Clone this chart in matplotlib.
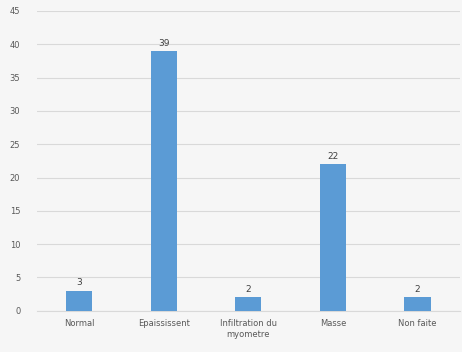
import matplotlib.pyplot as plt

categories = ['Normal', 'Epaississent', 'Infiltration du\nmyometre', 'Masse', 'Non faite']
values = [3, 39, 2, 22, 2]
y_ticks = [0, 5, 10, 15, 20, 25, 30, 35, 40, 45]

fig = plt.figure(figsize=(4.62, 3.52), dpi=100)
fig.patch.set_facecolor('#f6f6f6')
ax = fig.add_axes([0.08, 0.117, 0.915, 0.852])
ax.set_facecolor('#f6f6f6')

x = range(len(categories))
bars = ax.bar(x, values, width=0.31, color='#5b9bd5', zorder=3)
for xi, v in zip(x, values):
    ax.text(xi, v + 0.5, str(v), ha='center', va='bottom', fontsize=6.5, color='#404040')

ax.set_ylim(0, 45)
ax.set_xlim(-0.5, len(categories) - 0.5)
ax.set_yticks(y_ticks)
ax.set_xticks(list(x))
ax.set_xticklabels(categories, fontsize=6, color='#595959')
ax.tick_params(axis='y', labelsize=6, colors='#595959', length=0, pad=12)
ax.tick_params(axis='x', length=0, pad=6)
ax.grid(axis='y', color='#d9d9d9', linewidth=0.8, zorder=0)
for side in ['top', 'right', 'left']:
    ax.spines[side].set_visible(False)
ax.spines['bottom'].set_color('#d9d9d9')

fig.savefig('out.png', dpi=100, facecolor=fig.get_facecolor())
